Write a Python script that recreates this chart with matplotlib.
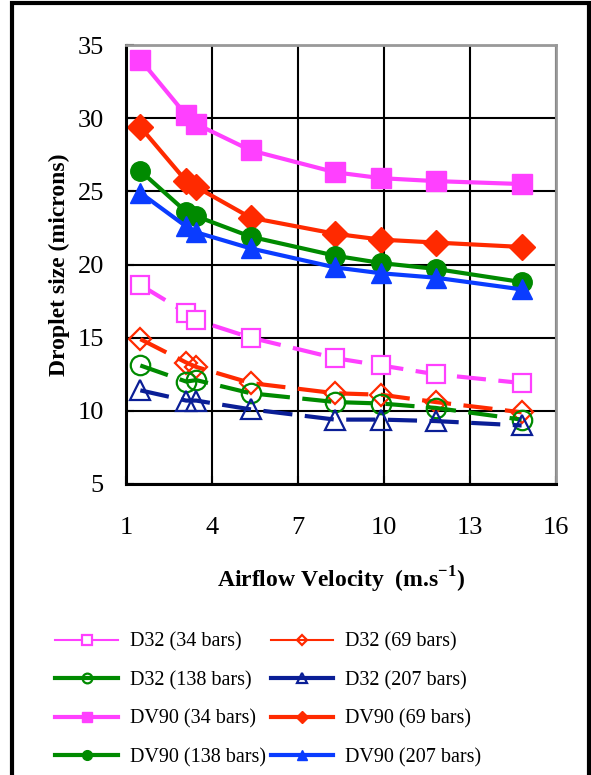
import matplotlib
matplotlib.use('Agg')
import matplotlib.pyplot as plt
from matplotlib.patches import Rectangle

plt.rcParams['font.family'] = 'Liberation Serif'
plt.rcParams['mathtext.fontset'] = 'custom'
plt.rcParams['mathtext.rm'] = 'Liberation Serif'
plt.rcParams['mathtext.bf'] = 'Liberation Serif:bold'

velocity = [1.5, 3.1, 3.45, 5.35, 8.3, 9.9, 11.8, 14.8]

d32_34 = [18.6, 16.7, 16.2, 15.0, 13.6, 13.1, 12.5, 11.9]
d32_69 = [14.9, 13.3, 13.0, 11.9, 11.2, 11.1, 10.6, 9.9]
d32_138 = [13.1, 12.0, 12.1, 11.2, 10.6, 10.5, 10.2, 9.4]
d32_207 = [11.4, 10.7, 10.7, 10.1, 9.4, 9.4, 9.3, 9.0]

dv90_34 = [34.0, 30.2, 29.6, 27.8, 26.3, 25.9, 25.7, 25.5]
dv90_69 = [29.4, 25.7, 25.3, 23.2, 22.1, 21.7, 21.5, 21.2]
dv90_138 = [26.4, 23.6, 23.3, 21.9, 20.6, 20.1, 19.7, 18.8]
dv90_207 = [24.9, 22.6, 22.2, 21.1, 19.8, 19.4, 19.1, 18.3]

pink = '#ff40ff'
red = '#ff2a00'
green = '#008a00'
blue = '#0a3cff'
navy = '#0a1e96'

fig = plt.figure(figsize=(5.91, 7.75), dpi=100)
ax = fig.add_axes([0.2132, 0.3755, 0.7276, 0.5664])

dash = (0, (7, 3))
h = {}
h['d34'], = ax.plot(velocity, d32_34, color=pink, lw=3, ls=dash, marker='s', ms=13,
                    mfc='white', mec=pink, mew=1.6, label='D32 (34 bars)')
h['d69'], = ax.plot(velocity, d32_69, color=red, lw=3, ls=dash, marker='D', ms=11,
                    mfc='none', mec=red, mew=1.6, label='D32 (69 bars)')
h['d138'], = ax.plot(velocity, d32_138, color=green, lw=3, ls=dash, marker='o', ms=14,
                     mfc='none', mec=green, mew=1.6, label='D32 (138 bars)')
h['d207'], = ax.plot(velocity, d32_207, color=navy, lw=3, ls=dash, marker='^', ms=14,
                     mfc='none', mec=navy, mew=1.6, label='D32 (207 bars)')
h['v34'], = ax.plot(velocity, dv90_34, color=pink, lw=3, marker='s', ms=14,
                    mfc=pink, mec=pink, label='DV90 (34 bars)')
h['v69'], = ax.plot(velocity, dv90_69, color=red, lw=3, marker='D', ms=13,
                    mfc=red, mec=red, label='DV90 (69 bars)')
h['v138'], = ax.plot(velocity, dv90_138, color=green, lw=3, marker='o', ms=14,
                     mfc=green, mec=green, label='DV90 (138 bars)')
h['v207'], = ax.plot(velocity, dv90_207, color=blue, lw=3, marker='^', ms=14,
                     mfc=blue, mec=blue, label='DV90 (207 bars)')

ax.set_xlim(1, 16)
ax.set_ylim(5, 35)
ax.set_xticks([1, 4, 7, 10, 13, 16])
ax.set_yticks([5, 10, 15, 20, 25, 30, 35])
ax.tick_params(direction='in', length=6, width=1.5, labelsize=19, colors='black')
ax.tick_params(axis='x', pad=24)
ax.tick_params(axis='y', pad=16)
ax.grid(True, color='black', lw=1.5)
ax.set_axisbelow(True)

for s in ['left', 'bottom']:
    ax.spines[s].set_color('black')
    ax.spines[s].set_linewidth(2.2)
for s in ['top', 'right']:
    ax.spines[s].set_color('#999999')
    ax.spines[s].set_linewidth(2)

ax.set_xlabel(r'Airflow Velocity  (m.s$^{\mathbf{-1}}$)', fontsize=17, fontweight='bold', labelpad=18)
ax.set_ylabel('Droplet size (microns)', fontsize=17, fontweight='bold', labelpad=5)

order = ['d34', 'd138', 'v34', 'v138', 'd69', 'd207', 'v69', 'v207']
leg = fig.legend([h[k] for k in order], [h[k].get_label() for k in order],
                 loc='upper left', bbox_to_anchor=(0.063, 0.207), ncol=2, frameon=False,
                 fontsize=14.5, markerscale=0.5, handlelength=3.1, handletextpad=0.6,
                 columnspacing=0.25, labelspacing=0.95)
# D32 handles for 34 and 69 bars are drawn thin in the original key
for line in leg.get_lines():
    if line.get_label() in ('D32 (34 bars)', 'D32 (69 bars)'):
        line.set_linewidth(1.5)
        line.set_linestyle('-')
    elif line.get_label().startswith('D32'):
        line.set_linestyle('-')

fig.patches.append(Rectangle((12 / 591, -0.01), 577 / 591, 1 - 3 / 775 + 0.01,
                             transform=fig.transFigure, fill=False, ec='black', lw=3))

fig.savefig('out.png', dpi=100)
